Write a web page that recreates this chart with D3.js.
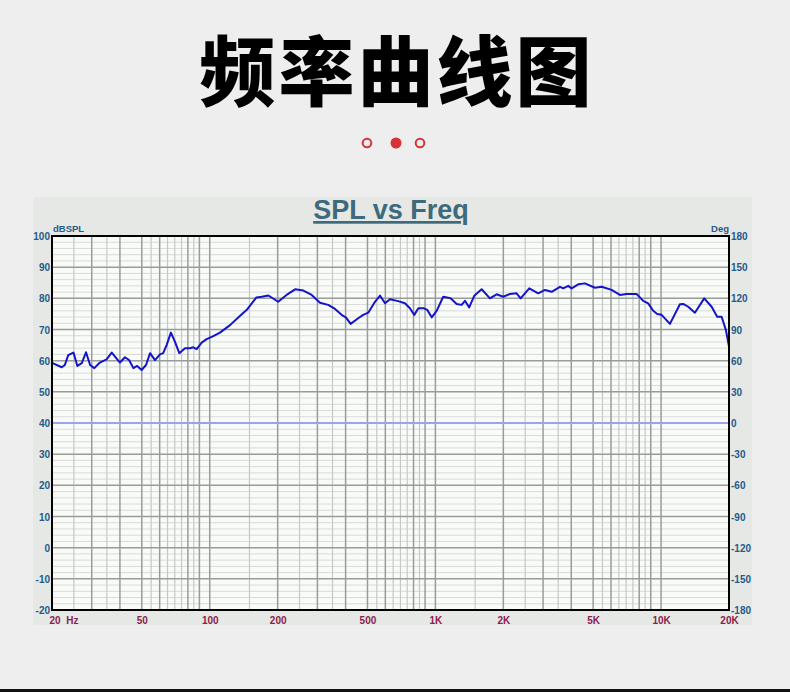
<!DOCTYPE html>
<html>
<head>
<meta charset="utf-8">
<script src="https://cdn.jsdelivr.net/npm/d3@7/dist/d3.min.js"></script>
<style>
  html, body { margin: 0; padding: 0; background: #eeeeee; }
  svg { display: block; }
  text { font-family: "Liberation Sans", Arial, sans-serif; }
</style>
</head>
<body>
<svg id="chart" width="790" height="692"></svg>
<script>
// ---------- data ----------
const freqs = [20, 22.1, 22.8, 23.6, 24.9, 25.9, 27.1, 28.3, 29.5, 30.8, 32.6, 34.9, 36.8, 40, 42.1, 43.9, 45.9, 47.7, 49.9, 52.2,
  54.4, 57.2, 60.2, 62.2, 64.4, 67.3, 70.1, 73.3, 77.7, 81.7, 84.5, 87.5, 92.1, 96.9, 103.7, 111, 123, 136, 146, 161,
  170, 182, 201, 219, 239, 260, 283, 308, 335, 359, 384, 402, 421, 455, 479, 504, 540, 568, 598, 629,
  684, 733, 771, 806, 840, 890, 920, 963, 1013, 1083, 1168, 1242, 1307, 1352, 1412, 1486, 1603, 1745, 1868, 1998,
  2139, 2290, 2386, 2605, 2856, 3058, 3274, 3564, 3686, 3878, 4014, 4295, 4598, 5092, 5453, 6037, 6572, 7038, 7793, 8336,
  8770, 9230, 9616, 10056, 10946, 12122, 12536, 13192, 14126, 15532, 16748, 17732, 18548, 19380, 20000];
const spl = [59.3, 57.9, 58.6, 61.8, 62.6, 58.3, 59.2, 62.7, 58.6, 57.6, 59.4, 60.4, 62.6, 59.4, 61.1, 60.2, 57.6, 58.3, 57.0, 58.6,
  62.4, 60.2, 62.0, 62.4, 65.0, 69.0, 66.1, 62.4, 64.0, 64.0, 64.3, 63.7, 65.8, 66.9, 67.9, 69.0, 71.4, 74.3, 76.3, 80.3,
  80.5, 80.9, 78.9, 81.1, 82.9, 82.5, 81.1, 78.6, 77.9, 76.6, 74.7, 73.8, 71.8, 73.6, 74.7, 75.4, 78.9, 80.9, 78.4, 79.7,
  79.1, 78.4, 76.8, 74.7, 76.8, 76.8, 76.3, 73.9, 76.0, 80.5, 80.0, 78.2, 77.9, 79.2, 77.1, 80.8, 82.9, 80.0, 81.3, 80.5,
  81.4, 81.6, 80.0, 83.2, 81.6, 82.7, 82.1, 83.7, 83.2, 84.0, 83.2, 84.5, 84.8, 83.4, 83.7, 82.7, 81.1, 81.4, 81.4, 79.2,
  78.4, 76.0, 75.0, 74.7, 71.8, 78.1, 78.2, 77.3, 75.4, 80.0, 77.3, 74.1, 74.1, 69.8, 64.5];

const xTickValues = [20, 50, 100, 200, 500, 1000, 2000, 5000, 10000, 20000];
const xTickLabels = ["20  Hz", "50", "100", "200", "500", "1K", "2K", "5K", "10K", "20K"];
const yTickValues = [100, 90, 80, 70, 60, 50, 40, 30, 20, 10, 0, -10, -20];
const degTickValues = [180, 150, 120, 90, 60, 30, 0, -30, -60, -90, -120, -150, -180];
const gridDarkSteps = [2, 3, 4, 5, 6, 8, 9, 10];
const gridLightSteps = [1.5, 2.5, 3.5, 5.5, 6.5, 7, 7.5, 8.5];
const decades = [10, 100, 1000];

const headline = "频率曲线图";
const chartTitle = "SPL vs Freq";
const leftUnit = "dBSPL";
const rightUnit = "Deg";

// ---------- layout ----------
const svg = d3.select("#chart");
const W = 790, H = 692;
const plot = { left: 52, right: 729, top: 236, bottom: 610 };

const x = d3.scaleLog().domain([20, 20000]).range([plot.left, plot.right]);
const y = d3.scaleLinear().domain([-20, 100]).range([plot.bottom, plot.top]);
const yDeg = d3.scaleLinear().domain([-180, 180]).range([plot.bottom, plot.top]);

// headline
svg.append("text")
  .attr("x", 397).attr("y", 100)
  .attr("text-anchor", "middle")
  .style("font-family", "'Noto Sans CJK SC', sans-serif")
  .style("font-weight", 900)
  .style("font-size", "76px")
  .style("letter-spacing", "3px")
  .attr("fill", "#000")
  .text(headline);

// dots
const red = "#d63238";
svg.append("circle").attr("cx", 367).attr("cy", 143).attr("r", 4.3)
  .attr("fill", "none").attr("stroke", red).attr("stroke-width", 2);
svg.append("circle").attr("cx", 396).attr("cy", 143).attr("r", 5.5)
  .attr("fill", red);
svg.append("circle").attr("cx", 420).attr("cy", 143).attr("r", 4.3)
  .attr("fill", "none").attr("stroke", red).attr("stroke-width", 2);

// panel
svg.append("rect").attr("x", 33).attr("y", 197).attr("width", 719).attr("height", 428)
  .attr("fill", "#e5e8e5");

// title
svg.append("text")
  .attr("x", 391).attr("y", 219)
  .attr("text-anchor", "middle")
  .style("font-weight", "bold")
  .style("font-size", "27px")
  .style("text-decoration", "underline")
  .attr("fill", "#3d6a7c")
  .text(chartTitle);

// plot background
svg.append("rect")
  .attr("x", plot.left).attr("y", plot.top)
  .attr("width", plot.right - plot.left).attr("height", plot.bottom - plot.top)
  .attr("fill", "#f8fbf8");

const g = svg.append("g");

// horizontal minor grid (2 dB)
const minorY = d3.range(-20, 100, 2).filter(v => v % 10 !== 0);
g.selectAll("line.hmin").data(minorY).join("line")
  .attr("x1", plot.left).attr("x2", plot.right)
  .attr("y1", d => y(d)).attr("y2", d => y(d))
  .attr("stroke", "#d8dbd8").attr("stroke-width", 1);

// vertical grid
const lightF = [], darkF = [];
decades.forEach(dec => {
  gridLightSteps.forEach(s => { const f = s * dec; if (f > 20 && f < 20000) lightF.push(f); });
  gridDarkSteps.forEach(s => { const f = s * dec; if (f > 20 && f < 20000) darkF.push(f); });
});
g.selectAll("line.vlight").data(lightF).join("line")
  .attr("x1", d => x(d)).attr("x2", d => x(d))
  .attr("y1", plot.top).attr("y2", plot.bottom)
  .attr("stroke", "#c6c9c6").attr("stroke-width", 1.2);
g.selectAll("line.vdark").data(darkF).join("line")
  .attr("x1", d => x(d)).attr("x2", d => x(d))
  .attr("y1", plot.top).attr("y2", plot.bottom)
  .attr("stroke", "#9a9c9a").attr("stroke-width", 1.5);

// horizontal major grid
g.selectAll("line.hmaj").data(yTickValues.filter(v => v !== 40 && v !== 100 && v !== -20)).join("line")
  .attr("x1", plot.left).attr("x2", plot.right)
  .attr("y1", d => y(d)).attr("y2", d => y(d))
  .attr("stroke", "#9a9c9a").attr("stroke-width", 1.5);

// 0 deg line
g.append("line")
  .attr("x1", plot.left).attr("x2", plot.right)
  .attr("y1", yDeg(0)).attr("y2", yDeg(0))
  .attr("stroke", "#a0a0f0").attr("stroke-width", 2);

// curve
const pts = freqs.map((f, i) => [f, spl[i]]);
g.append("path")
  .datum(pts)
  .attr("fill", "none")
  .attr("stroke", "#1414c8")
  .attr("stroke-width", 2)
  .attr("stroke-linejoin", "round")
  .attr("d", d3.line().x(d => x(d[0])).y(d => y(d[1])));

// frame
svg.append("rect")
  .attr("x", plot.left).attr("y", plot.top)
  .attr("width", plot.right - plot.left).attr("height", plot.bottom - plot.top)
  .attr("fill", "none").attr("stroke", "#000").attr("stroke-width", 2);

// axes
const axisColor = "#255a8a";
const xColor = "#8c1c4c";
const fmtNum = d => String(d);
const leftAxis = svg.append("g").attr("transform", `translate(${plot.left - 2},0)`)
  .call(d3.axisLeft(y).tickValues(yTickValues).tickSize(0).tickPadding(0).tickFormat(fmtNum));
const rightAxis = svg.append("g").attr("transform", `translate(${plot.right + 2},0)`)
  .call(d3.axisRight(yDeg).tickValues(degTickValues).tickSize(0).tickPadding(0).tickFormat(fmtNum));
const bottomAxis = svg.append("g").attr("transform", `translate(0,${plot.bottom})`)
  .call(d3.axisBottom(x).tickValues(xTickValues).tickSize(0).tickPadding(0)
    .tickFormat((d, i) => xTickLabels[i]));

[leftAxis, rightAxis, bottomAxis].forEach(a => a.select(".domain").remove());
[leftAxis, rightAxis].forEach(a => a.selectAll("text").attr("fill", axisColor).attr("dy", "0.35em")
  .style("font-size", "10px").style("font-weight", "bold")
  .style("font-family", "'Liberation Sans', Arial, sans-serif"));
bottomAxis.selectAll("text").attr("fill", xColor).attr("y", 14).attr("dy", 0)
  .style("font-size", "10px").style("font-weight", "bold").style("white-space", "pre")
  .style("font-family", "'Liberation Sans', Arial, sans-serif");
bottomAxis.selectAll(".tick").filter(d => d === 20).select("text")
  .attr("text-anchor", "start").attr("x", -3);

// unit labels
svg.append("text").attr("x", plot.left + 1).attr("y", 232)
  .style("font-size", "9.5px").style("font-weight", "bold").attr("fill", axisColor).text(leftUnit);
svg.append("text").attr("x", plot.right).attr("y", 232).attr("text-anchor", "end")
  .style("font-size", "9.5px").style("font-weight", "bold").attr("fill", axisColor).text(rightUnit);

// bottom rule
svg.append("rect").attr("x", 0).attr("y", 689).attr("width", W).attr("height", 3).attr("fill", "#111");
</script>
</body>
</html>
